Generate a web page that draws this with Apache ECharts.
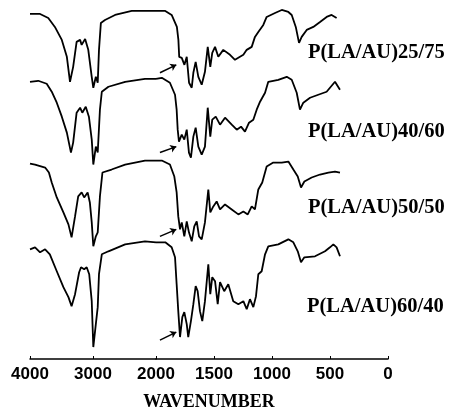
<!DOCTYPE html>
<html>
<head>
<meta charset="utf-8">
<script src="https://cdn.jsdelivr.net/npm/echarts@6/dist/echarts.min.js"></script>
<style>
  html, body { margin: 0; padding: 0; background: #fff; }
  #chart { width: 451px; height: 409px; }
</style>
</head>
<body>
<div id="chart"></div>
<script>
// wavenumber (cm-1) and relative transmittance
const wn2575 = [4000,3840,3710,3605,3495,3415,3365,3315,3260,3205,3180,3125,3075,3020,2995,2955,2925,2905,2875,2810,2650,2385,2000,1920,1865,1820,1807,1800,1778,1755,1735,1715,1692,1678,1658,1635,1606,1578,1554,1532,1515,1491,1463,1420,1362,1319,1276,1247,1218,1175,1147,1118,1075,1046,974,916,859,830,795,767,744,701,644,586,529,486,443];
const t2575 = [76,76,72,63,50,33,8,23,48,50,45,51,40,13,2,13,7,40,67,70,75,79,79,79,75,63,50,33,32,25,33,7,2,17,28,13,5,18,43,23,37,43,33,40,35,30,33,35,40,43,53,58,65,73,77,80,78,75,63,47,53,60,63,68,73,75,72];

const wn4060 = [4000,3870,3735,3655,3575,3495,3415,3350,3315,3260,3205,3170,3115,3065,3020,2995,2955,2925,2890,2860,2755,2490,2175,2000,1950,1880,1836,1822,1813,1802,1778,1756,1735,1716,1699,1678,1658,1635,1606,1578,1554,1532,1515,1485,1448,1405,1347,1304,1267,1233,1198,1161,1132,1103,1060,1032,946,873,830,787,759,730,672,601,529,457,414];
const t4060 = [88,89,86,78,67,53,37,17,27,57,62,57,63,53,30,5,23,17,60,78,83,88,91,91,92,87,75,60,40,28,35,30,40,17,12,33,42,23,15,23,62,33,50,53,45,52,45,40,43,38,47,50,60,68,77,88,90,93,90,77,60,67,72,75,78,88,80];

const wn5050 = [4000,3920,3760,3700,3655,3575,3470,3390,3340,3285,3235,3180,3140,3085,3050,3020,2995,2955,2925,2890,2850,2705,2490,2175,2000,1950,1880,1842,1822,1808,1793,1778,1756,1735,1716,1692,1670,1649,1629,1606,1578,1549,1532,1506,1477,1448,1405,1347,1290,1247,1209,1175,1147,1118,1084,1046,989,916,859,816,778,750,721,658,586,514,457,414];
const t5050 = [86,85,82,77,67,52,37,25,12,33,53,57,52,57,47,27,3,13,17,53,77,80,85,89,89,89,85,73,57,33,20,27,13,28,17,8,23,28,13,10,27,60,37,43,48,40,45,40,35,38,35,43,40,60,67,83,87,87,88,80,73,62,68,72,75,77,78,77];

const wn6040 = [4000,3920,3840,3760,3685,3575,3470,3390,3340,3285,3220,3190,3140,3100,3060,3020,2995,2955,2925,2905,2860,2755,2490,2175,2000,1920,1865,1836,1822,1808,1793,1773,1756,1735,1722,1699,1678,1658,1641,1621,1601,1578,1549,1532,1515,1491,1468,1448,1412,1377,1334,1290,1247,1218,1190,1161,1138,1118,1089,1060,1032,946,859,816,778,750,721,629,543,500,471,443,414];
const t6040 = [100,102,97,100,95,78,62,52,43,55,77,82,80,82,75,48,2,25,42,75,95,98,105,108,107,107,102,92,65,38,12,32,37,25,12,28,45,63,58,38,28,48,85,55,72,68,45,67,58,65,48,45,48,40,50,42,53,75,78,95,103,105,110,107,98,87,92,93,98,102,105,102,93];

const traceNames = ['P(LA/AU)25/75', 'P(LA/AU)40/60', 'P(LA/AU)50/50', 'P(LA/AU)60/40'];
const traceOffsets = [270, 190, 110, 10];
// little arrow next to the carbonyl band: [start wn, end wn], [start T, end T]
const arrowWn = [1966, 1825];
const arrowT = [[17, 25], [17, 23], [13, 20], [9, 17]];

const ticksHigh = [4000, 3000];
const ticksLow = [2000, 1500, 1000, 500, 0];

const traces = [[wn2575, t2575], [wn4060, t4060], [wn5050, t5050], [wn6040, t6040]];

function part(wn, t, off, lo, hi) {
  const out = [];
  wn.forEach((w, i) => {
    if (w >= lo && w <= hi) out.push([w, t[i] + off]);
  });
  return out;
}

const chart = echarts.init(document.getElementById('chart'));

const lineStyle = { color: '#000', width: 1.8 };
const series = [];
traces.forEach(([wn, t], k) => {
  const off = traceOffsets[k];
  series.push({
    type: 'line', xAxisIndex: 0, yAxisIndex: 0, symbol: 'none',
    lineStyle: lineStyle, data: part(wn, t, off, 2000, 4000)
  });
  series.push({
    type: 'line', xAxisIndex: 1, yAxisIndex: 1, symbol: 'none',
    lineStyle: lineStyle, data: part(wn, t, off, 0, 2000),
    markLine: {
      silent: true, animation: false,
      symbol: ['none', 'arrow'], symbolSize: 6,
      label: { show: false },
      lineStyle: { color: '#000', width: 1.5, type: 'solid' },
      data: [[
        { coord: [arrowWn[0], arrowT[k][0] + off] },
        { coord: [arrowWn[1], arrowT[k][1] + off] }
      ]]
    }
  });
});

const axisCommon = {
  type: 'value', inverse: true,
  axisLine: { show: true, lineStyle: { color: '#000', width: 1.5 } },
  axisTick: { show: true, inside: true, length: 3, lineStyle: { color: '#000' } },
  splitLine: { show: false },
  axisLabel: {
    color: '#000', fontFamily: '"Liberation Sans Narrow", "Liberation Sans", sans-serif',
    fontWeight: 'bold', fontSize: 17, margin: 7
  }
};

const labelFont = 'bold 20.5px "Liberation Serif"';

const option = {
  animation: false,
  backgroundColor: '#fff',
  grid: [
    { left: 30, width: 126, top: 0, bottom: 50 },
    { left: 156, width: 232, top: 0, bottom: 50 }
  ],
  xAxis: [
    Object.assign({}, axisCommon, {
      gridIndex: 0, min: 2000, max: 4000, interval: 1000,
      axisLabel: Object.assign({}, axisCommon.axisLabel, {
        formatter: v => ticksHigh.includes(v) ? String(v) : ''
      })
    }),
    Object.assign({}, axisCommon, {
      gridIndex: 1, min: 0, max: 2000, interval: 500,
      axisLabel: Object.assign({}, axisCommon.axisLabel, {
        formatter: v => ticksLow.includes(v) ? String(v) : ''
      })
    })
  ],
  yAxis: [
    { type: 'value', gridIndex: 0, min: 0, max: 360, show: false },
    { type: 'value', gridIndex: 1, min: 0, max: 360, show: false }
  ],
  graphic: [
    { type: 'text', x: 308, y: 53, style: { text: traceNames[0], font: labelFont, fill: '#000', verticalAlign: 'middle' } },
    { type: 'text', x: 308, y: 132, style: { text: traceNames[1], font: labelFont, fill: '#000', verticalAlign: 'middle' } },
    { type: 'text', x: 308, y: 208, style: { text: traceNames[2], font: labelFont, fill: '#000', verticalAlign: 'middle' } },
    { type: 'text', x: 307, y: 307, style: { text: traceNames[3], font: labelFont, fill: '#000', verticalAlign: 'middle' } },
    { type: 'text', x: 209, y: 402, style: { text: 'WAVENUMBER', font: 'bold 18px "Liberation Serif"', fill: '#000', align: 'center', verticalAlign: 'middle' } }
  ],
  series: series
};

chart.setOption(option);
</script>
</body>
</html>
